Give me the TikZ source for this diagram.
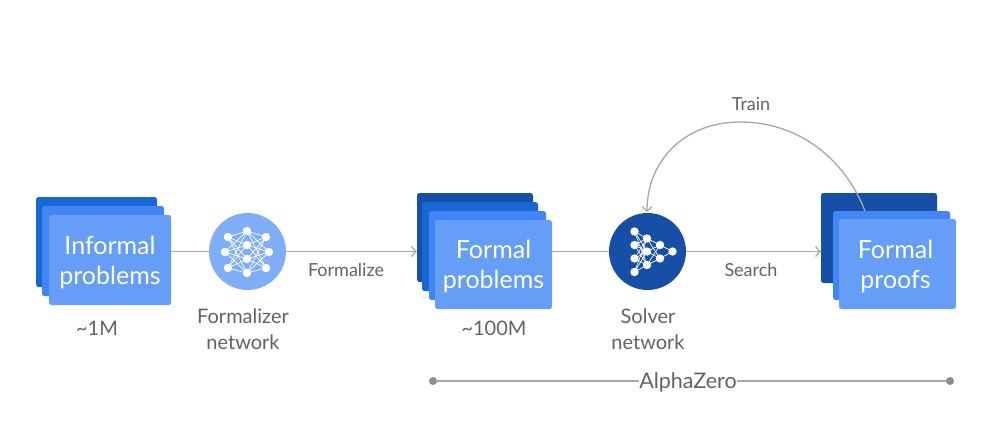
\documentclass[tikz,border=0pt]{standalone}
\usepackage{fontspec}
\setmainfont{Lato}
\usetikzlibrary{arrows.meta}
\definecolor{bluea}{HTML}{174EA6}
\definecolor{blueb}{HTML}{1967D2}
\definecolor{bluec}{HTML}{4285F4}
\definecolor{blued}{HTML}{669DF6}
\definecolor{bluee}{HTML}{7FAEF7}
\definecolor{labelgray}{HTML}{5F6368}
\definecolor{linegray}{HTML}{A6A6A6}
\tikzset{
  cardbox/.style={rounded corners=2.5pt,inner sep=0pt},
  cardtext/.style={inner sep=0pt,text=white,align=center,font=\fontsize{25}{30}\selectfont},
  netdisc/.style={circle,inner sep=0pt,minimum size=77pt},
  neuron/.style={circle,fill=white,inner sep=0pt,minimum size=8.4pt},
  synapse/.style={draw=white,line width=0.7pt},
  biglabel/.style={text=labelgray,align=center,font=\fontsize{20}{26}\selectfont},
  smalllabel/.style={text=labelgray,font=\fontsize{18}{20}\selectfont},
  wire/.style={draw=linegray,line width=1.3pt},
  wirearrow/.style={wire,-{Straight Barb[length=4.5pt,width=10pt,line width=1.2pt]}},
  enddot/.style={circle,fill=linegray!85!black,inner sep=0pt,minimum size=8pt}
}
\newcommand{\card}[6]{% name, x0,y0,x1,y1,color
  \node[cardbox,fill=#6,minimum width={(#4-#2)*1pt},minimum height={(#5-#3)*1pt}] (#1) at ({(#2+#4)/2},{(#3+#5)/2}) {};}
\begin{document}
\begin{tikzpicture}[x=1pt,y=-1pt]
\useasboundingbox (0,0) rectangle (1000,422);
% left stack
\card{ia}{36}{197}{157}{287}{blueb}
\card{ib}{42}{206}{164}{296}{bluec}
\card{ic}{49}{215}{171}{305}{blued}
\node[cardtext] (ict) at (110,262) {Informal\\problems};
% middle stack
\card{fa}{417}{193}{533}{282}{bluea}
\card{fb}{422}{202}{538}{291}{blueb}
\card{fc}{429}{211}{546}{300}{bluec}
\card{fd}{435}{220}{552}{309}{blued}
\node[cardtext] (fdt) at (493.5,266) {Formal\\problems};
% right stack
\card{pa}{821}{193}{937}{283}{bluea}
\card{pb}{833}{211}{950}{300}{bluec}
\card{pc}{839}{219}{956}{309}{blued}
\node[cardtext] (pct) at (895.5,266) {Formal\\proofs};
% discs
\node[netdisc,fill=bluee] (fnet) at (247.5,251.5) {};
\node[netdisc,fill=bluea] (snet) at (647.5,251.5) {};
% connectors
\draw[wire] (ic.east |- fnet.east) -- (fnet.west);
\draw[wirearrow] (fnet.east) -- (fa.west |- fnet.east);
\draw[wire] (fd.east |- snet.east) -- (snet.west);
\draw[wirearrow] (snet.east) -- (pa.west |- snet.east);
\coordinate (trainstart) at (865,211);
\coordinate (trainend) at (647,212);
\draw[wirearrow] (trainstart) .. controls (845,160) and (800,122) .. (740,122)
  .. controls (685,122) and (647,160) .. (trainend);
% formalizer net
\foreach \n/\x/\y in {a1/228/237,a2/225/252,a3/228/268,
  b1/247/231,b2/247/245,b3/247/259,b4/247/273,
  c1/266/237,c2/269/252,c3/266/268}{\node[neuron] (\n) at (\x,\y) {};}
\foreach \p in {a1,a2,a3}\foreach \q in {b1,b2,b3,b4}{\draw[synapse] (\p.center) -- (\q.center);}
\foreach \p in {c1,c2,c3}\foreach \q in {b1,b2,b3,b4}{\draw[synapse] (\p.center) -- (\q.center);}
% solver net
\foreach \n/\x/\y in {d1/634.5/231.5,d2/634.5/245,d3/634.5/258.5,d4/634.5/272,
  e1/647/238.5,e2/647/251.5,e3/647/265,
  g1/660/245,g2/660/258.5,h1/672.5/251.5}{\node[neuron] (\n) at (\x,\y) {};}
\foreach \p in {d1,d2,d3,d4}\foreach \q in {e1,e2,e3}{\draw[synapse] (\p.center) -- (\q.center);}
\foreach \p in {e1,e2,e3}\foreach \q in {g1,g2}{\draw[synapse] (\p.center) -- (\q.center);}
\foreach \p in {g1,g2}{\draw[synapse] (\p.center) -- (h1.center);}
% labels
\node[biglabel] (l1m) at (97,328) {\textasciitilde 1M};
\node[biglabel] (lfn) at (243,329) {Formalizer\\network};
\node[biglabel] (l100m) at (494,328) {\textasciitilde 100M};
\node[biglabel] (lsn) at (648,329) {Solver\\network};
\node[smalllabel] (lform) at (346,270) {Formalize};
\node[smalllabel] (lsearch) at (751,269.5) {Search};
\node[smalllabel] (ltrain) at (751,104) {Train};
% AlphaZero
\node[biglabel,inner sep=0pt,font=\fontsize{21.5}{24}\selectfont] (az) at (688,382) {AlphaZero};
\node[enddot] (azl) at (433,381) {};
\node[enddot] (azr) at (950,381) {};
\draw[wire] (azl) -- (azl -| az.west);
\draw[wire] (az.east |- azr) -- (azr);
\end{tikzpicture}
\end{document}
